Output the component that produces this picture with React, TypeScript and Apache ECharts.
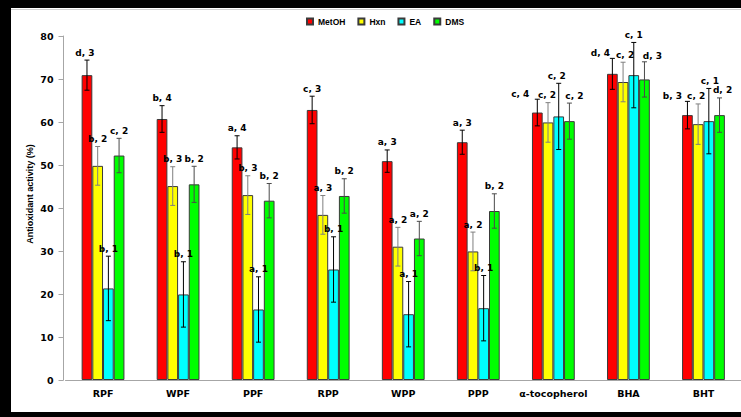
import React, { useEffect, useRef } from "react";
import * as echarts from "echarts";

const categories = ["RPF", "WPF", "PPF", "RPP", "WPP", "PPP", "α-tocopherol", "BHA", "BHT"];
const seriesNames = ["MetOH", "Hxn", "EA", "DMS"];

const metoh = [70.9, 60.7, 54.1, 62.8, 50.9, 55.3, 62.2, 71.2, 61.6];
const metohErr = [3.5, 3.1, 2.7, 3.2, 2.6, 2.8, 3.1, 3.6, 3.2];
const metohLabels = ["d, 3", "b, 4", "a, 4", "c, 3", "a, 3", "a, 3", "c, 4", "d, 4", "b, 3"];

const hxn = [49.8, 45.1, 43.0, 38.4, 31.0, 29.9, 59.9, 69.3, 59.5];
const hxnErr = [4.5, 4.5, 4.5, 4.5, 4.5, 4.5, 4.6, 4.6, 4.7];
const hxnLabels = ["b, 2", "b, 3", "b, 3", "a, 3", "a, 2", "a, 2", "c, 2", "c, 2", "c, 2"];

const ea = [21.3, 19.9, 16.4, 25.7, 15.3, 16.7, 61.3, 70.9, 60.2];
const eaErr = [7.5, 7.6, 7.6, 7.6, 7.6, 7.6, 7.7, 7.6, 7.6];
const eaLabels = ["b, 1", "b, 1", "a, 1", "b, 1", "a, 1", "b, 1", "c, 2", "c, 1", "c, 1"];

const dms = [52.2, 45.5, 41.7, 42.8, 32.9, 39.3, 60.2, 69.9, 61.6];
const dmsErr = [4.0, 4.2, 4.0, 4.0, 4.0, 4.0, 4.2, 4.1, 4.0];
const dmsLabels = ["c, 2", "b, 2", "b, 2", "b, 2", "a, 2", "b, 2", "c, 2", "d, 3", "d, 2"];

const yTicks = [0, 10, 20, 30, 40, 50, 60, 70, 80];

const values = [metoh, hxn, ea, dms];
const errors = [metohErr, hxnErr, eaErr, dmsErr];
const labels = [metohLabels, hxnLabels, eaLabels, dmsLabels];
const colors = ["#FF0000", "#FFFF00", "#00FFFF", "#00FF00"];
const errColors = ["#000000", "#7f7f7f", "#000000", "#4a4a4a"];

// horizontal label nudges (px) used in the original to keep crowded labels apart
const labelNudge: Record<string, number> = {
  "0-0": -2,
  "0-6": -17, "1-6": -1, "2-6": -2, "3-6": 5,
  "0-7": -12, "1-7": 2, "3-7": 8,
  "0-8": -15, "1-8": -2, "2-8": 1, "3-8": 3,
};

const BAR_W = 10.7;
const labelFont = "DejaVu Sans";

export default function App() {
  const ref = useRef<HTMLDivElement>(null);
  useEffect(() => {
    if (!ref.current) return;
    const chart = echarts.init(ref.current, null, { renderer: "svg" });

    const barSeries = seriesNames.map((name, si) => ({
      name,
      type: "bar",
      data: values[si],
      barWidth: BAR_W,
      barGap: "0%",
      itemStyle: { color: colors[si], borderColor: "#3a3a3a", borderWidth: 1 },
      z: 2,
    }));

    const errSeries = seriesNames.map((name, si) => ({
      name: name + " err",
      type: "custom",
      z: 3,
      encode: { x: 0, y: 1 },
      data: values[si].map((v, i) => [i, v, errors[si][i]]),
      renderItem: (params: any, api: any) => {
        const idx = api.value(0);
        const v = api.value(1);
        const e = api.value(2);
        const top = api.coord([idx, v + e]);
        const bot = api.coord([idx, v - e]);
        const x = top[0] + (si - 1.5) * BAR_W;
        const cap = 2.5;
        const st = { stroke: errColors[si], lineWidth: 1 };
        const nudge = labelNudge[`${si}-${params.dataIndex}`] || 0;
        return {
          type: "group",
          children: [
            { type: "line", shape: { x1: x, y1: top[1], x2: x, y2: bot[1] }, style: st },
            { type: "line", shape: { x1: x - cap, y1: top[1], x2: x + cap, y2: top[1] }, style: st },
            { type: "line", shape: { x1: x - cap, y1: bot[1], x2: x + cap, y2: bot[1] }, style: st },
            {
              type: "text",
              x: x + nudge,
              y: top[1] - (Math.abs(nudge) > 6 ? 1 : 3),
              style: {
                text: labels[si][params.dataIndex],
                fill: "#000",
                font: `bold 9px "${labelFont}"`,
                textAlign: "center",
                textVerticalAlign: "bottom",
              },
              z2: 10,
            },
          ],
        };
      },
    }));

    chart.setOption({
      animation: false,
      backgroundColor: "#ffffff",
      legend: {
        data: seriesNames,
        left: 306,
        top: 17,
        padding: 0,
        itemWidth: 6,
        itemHeight: 6,
        itemGap: 12,
        icon: "rect",
        textStyle: { fontFamily: "Liberation Sans", fontWeight: "bold", fontSize: 8.5, color: "#000" },
      },
      grid: { left: 65.5, right: -1, top: 36, bottom: 37, containLabel: false },
      xAxis: {
        type: "category",
        data: categories,
        axisLine: { lineStyle: { color: "#a6a6a6", width: 1 } },
        axisTick: { show: false },
        axisLabel: {
          margin: 8,
          color: "#000",
          fontFamily: labelFont,
          fontWeight: "bold",
          fontSize: 9.5,
          interval: 0,
        },
        splitLine: { show: false },
      },
      yAxis: {
        type: "value",
        min: yTicks[0],
        max: yTicks[yTicks.length - 1],
        interval: 10,
        offset: 2,
        axisLine: { show: true, lineStyle: { color: "#a6a6a6", width: 1 } },
        axisTick: { show: true, length: 5, lineStyle: { color: "#a6a6a6" } },
        axisLabel: {
          margin: 10,
          color: "#000",
          fontFamily: labelFont,
          fontWeight: "bold",
          fontSize: 9.5,
        },
        splitLine: { show: false },
      },
      graphic: [
        { type: "rect", shape: { x: 0, y: 0, width: 741, height: 8 }, style: { fill: "#000" } },
        { type: "rect", shape: { x: 0, y: 0, width: 11, height: 417 }, style: { fill: "#000" } },
        { type: "rect", shape: { x: 0, y: 412, width: 741, height: 5 }, style: { fill: "#000" } },
        { type: "line", shape: { x1: 11, y1: 9.5, x2: 741, y2: 9.5 }, style: { stroke: "#d0d0d0", lineWidth: 1 } },
        {
          type: "text",
          x: 30,
          y: 194,
          rotation: Math.PI / 2,
          style: {
            text: "Antioxidant activity (%)",
            fill: "#000",
            font: 'bold 9px "Liberation Sans"',
            textAlign: "center",
            textVerticalAlign: "middle",
          },
        },
      ],
      series: [...barSeries, ...errSeries],
    });
    return () => chart.dispose();
  }, []);
  return (
    <div
      ref={ref}
      style={{ position: "fixed", left: 0, top: 0, width: 741, height: 417, background: "#fff" }}
    />
  );
}
